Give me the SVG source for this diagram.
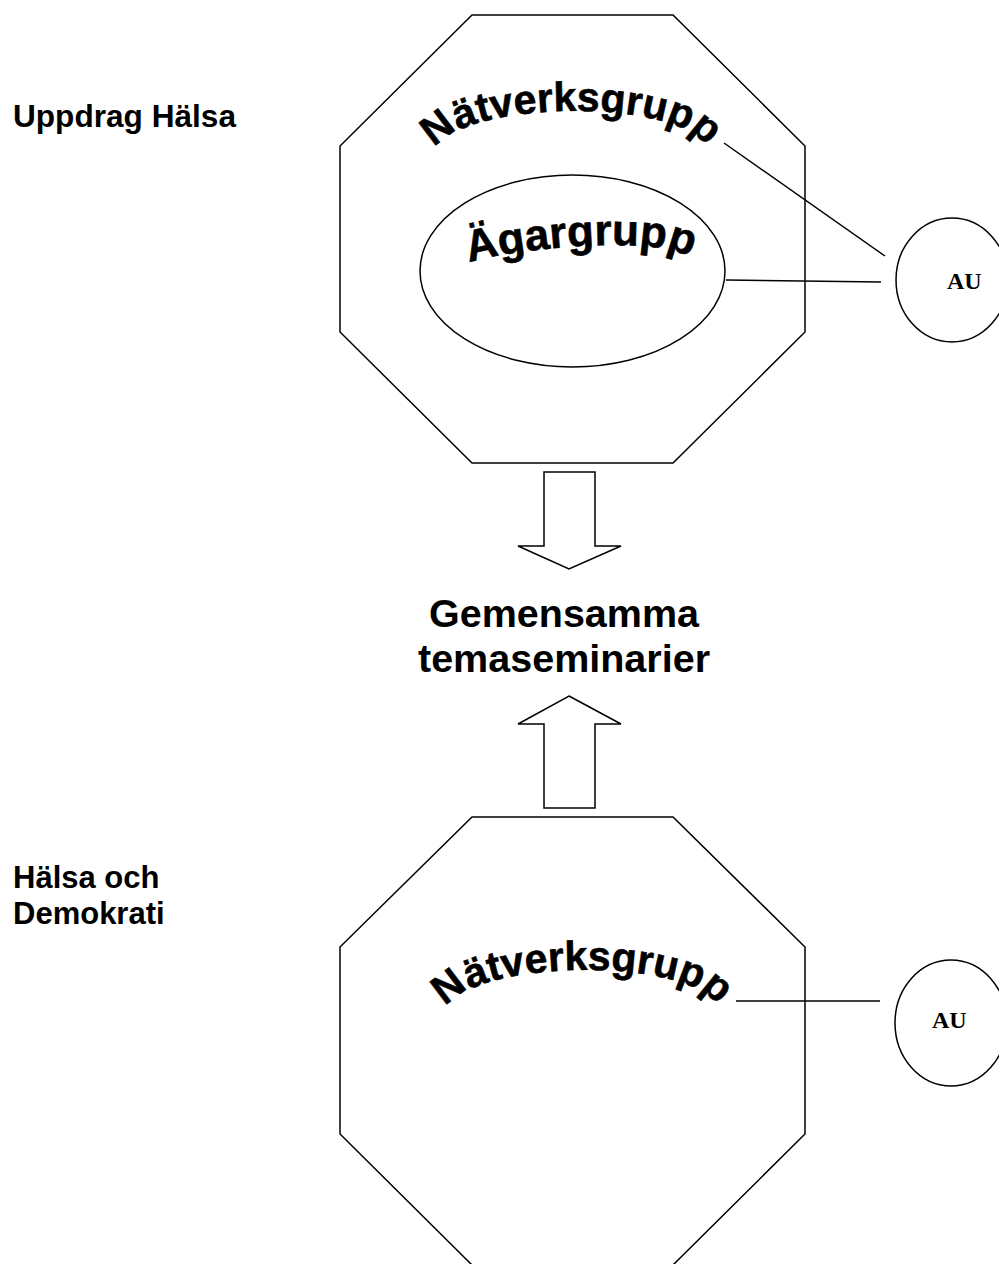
<svg xmlns="http://www.w3.org/2000/svg" xmlns:xlink="http://www.w3.org/1999/xlink" width="999" height="1264" viewBox="0 0 999 1264">
<style>
.shape{fill:#fff;stroke:#000;stroke-width:1.5;stroke-linejoin:miter}
.line{fill:none;stroke:#000;stroke-width:1.5}
.label{font-family:'Liberation Sans',Arial,sans-serif;font-weight:bold;fill:#000}
.arch{font-family:'Liberation Sans',Arial,sans-serif;font-weight:bold;fill:#000;stroke:#000;stroke-width:0.6}
.au{font-family:'Liberation Serif','Times New Roman',serif;font-weight:bold;font-size:24px;fill:#000}
</style>
<defs>
<path id="arcTop" d="M436,148 C466,100 676,98 706,146"/>
<path id="arcAgar" d="M465,264 C502,250 662,232 694,260"/>
<path id="arcBottom" d="M447,1007 C477,959 687,957 717,1005"/>
</defs>
<rect x="0" y="0" width="999" height="1264" fill="#fff"/>

<g id="label-uppdrag">
<text class="label" x="13" y="127" font-size="31.6">Uppdrag Hälsa</text>
</g>
<g id="label-halsa-demokrati">
<text class="label" x="13" y="888" font-size="31">Hälsa och</text>
<text class="label" x="13" y="924" font-size="31">Demokrati</text>
</g>

<g id="node-natverksgrupp-top">
<polygon class="shape" points="472,15 673,15 805,146 805,332 673,463 472,463 340,332 340,146"/>
<text class="arch" font-size="41"><textPath href="#arcTop" xlink:href="#arcTop" startOffset="50%" text-anchor="middle">Nätverksgrupp</textPath></text>
</g>

<g id="node-agargrupp">
<ellipse class="shape" cx="572.5" cy="271" rx="152.5" ry="96"/>
<text class="arch" font-size="44"><textPath href="#arcAgar" xlink:href="#arcAgar" startOffset="50%" text-anchor="middle">Ägargrupp</textPath></text>
</g>

<g id="node-au-top">
<ellipse class="shape" cx="952" cy="280" rx="56" ry="62"/>
<text class="au" x="947" y="289">AU</text>
</g>

<g id="node-gemensamma">
<text class="label" x="564" y="627" font-size="39.5" text-anchor="middle">Gemensamma</text>
<text class="label" x="564" y="672" font-size="39.5" text-anchor="middle">temaseminarier</text>
</g>

<g id="node-natverksgrupp-bottom">
<polygon class="shape" points="472,817 673,817 805,947 805,1134 673,1265 472,1265 340,1134 340,947"/>
<text class="arch" font-size="41"><textPath href="#arcBottom" xlink:href="#arcBottom" startOffset="50%" text-anchor="middle">Nätverksgrupp</textPath></text>
</g>

<g id="node-au-bottom">
<ellipse class="shape" cx="951" cy="1023" rx="56" ry="63"/>
<text class="au" x="932" y="1028">AU</text>
</g>

<g id="connectors">
<line class="line" x1="724" y1="143" x2="885" y2="256"/>
<line class="line" x1="726" y1="280" x2="881" y2="282"/>
<line class="line" x1="736" y1="1001" x2="880" y2="1001"/>
<polygon class="shape" points="544,472 595,472 595,546 621,546 569,569 518,546 544,546"/>
<polygon class="shape" points="569,696 621,724 595,724 595,808 544,808 544,724 518,724"/>
</g>
</svg>
